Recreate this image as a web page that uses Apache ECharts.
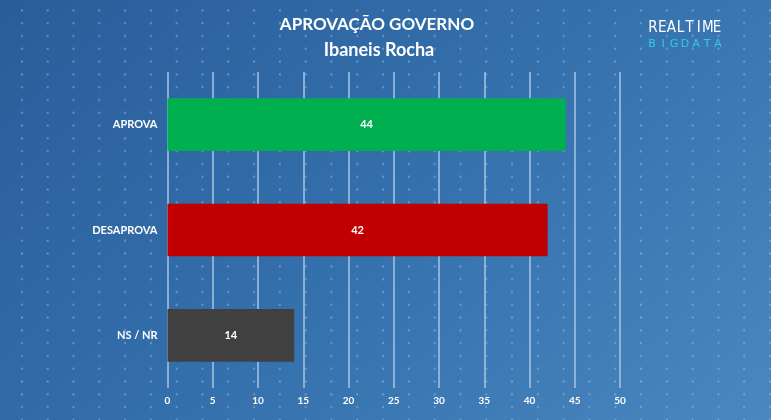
<!DOCTYPE html>
<html>
<head>
<meta charset="utf-8">
<script src="https://cdn.jsdelivr.net/npm/echarts@6/dist/echarts.min.js"></script>
<style>
html,body{margin:0;padding:0;}
#c{width:771px;height:420px;
background:
 radial-gradient(circle, rgba(180,205,235,0.5) 0.8px, transparent 1.3px) 9px 4px/25.8px 12.8px,
 linear-gradient(135deg,#295d9a 0%,#3470ac 50%,#4a86bf 100%);}
</style>
</head>
<body>
<div id="c"></div>
<script>
var categories = ['APROVA', 'DESAPROVA', 'NS / NR'];
var values = [44, 42, 14];
var barColors = ['#00b050', '#c00000', '#404040'];
var xTicks = [0, 5, 10, 15, 20, 25, 30, 35, 40, 45, 50];

function spaced(text, x0, width, top, fill, font) {
  var step = width / (text.length - 1);
  return text.split('').map(function (ch, i) {
    return {type: 'text', x: x0 + i * step, y: top,
      style: {text: ch, fill: fill, font: font, align: 'center', verticalAlign: 'top'}};
  });
}

var logo = spaced('REALTIME', 653, 64, 21, '#ffffff', '500 15px "DejaVu Sans Condensed", sans-serif')
  .concat(spaced('BIGDATA', 652, 66, 39, '#2ccbef', '11px "DejaVu Sans", sans-serif'));

var chart = echarts.init(document.getElementById('c'));
var font = 'Lato, "Open Sans", sans-serif';
chart.setOption({
  backgroundColor: 'transparent',
  title: [{
    text: 'APROVAÇÃO GOVERNO',
    left: 372, top: 11, textAlign: 'center',
    textStyle: {color: '#fff', fontSize: 17, fontWeight: 'bold', fontFamily: font}
  }, {
    text: 'Ibaneis Rocha',
    left: 374, top: 36, textAlign: 'center',
    textStyle: {color: '#fff', fontSize: 18, fontWeight: 'bold', fontFamily: font}
  }],
  graphic: logo,
  grid: {left: 167.5, right: 151, top: 72, bottom: 32, containLabel: false},
  xAxis: {
    type: 'value', min: 0, max: 50, interval: 5,
    axisLine: {show: false}, axisTick: {show: false},
    splitLine: {show: true, lineStyle: {color: '#a9c6e6', width: 1.5}},
    axisLabel: {color: '#fff', fontSize: 10, fontWeight: 'bold', fontFamily: font, margin: 8,
      formatter: function (v) { return xTicks.indexOf(v) >= 0 ? String(v) : ''; }}
  },
  yAxis: {
    type: 'category', data: categories, inverse: true,
    axisLine: {show: false}, axisTick: {show: false},
    axisLabel: {color: '#fff', fontSize: 11, fontWeight: 'bold', fontFamily: font, margin: 10}
  },
  series: [{
    type: 'bar',
    barCategoryGap: '50%',
    data: values.map(function (v, i) { return {value: v, itemStyle: {color: barColors[i]}}; }),
    label: {show: true, position: 'inside', color: '#fff', fontSize: 11, fontWeight: 'bold', fontFamily: font},
    silent: true
  }],
  animation: false
});
</script>
</body>
</html>
